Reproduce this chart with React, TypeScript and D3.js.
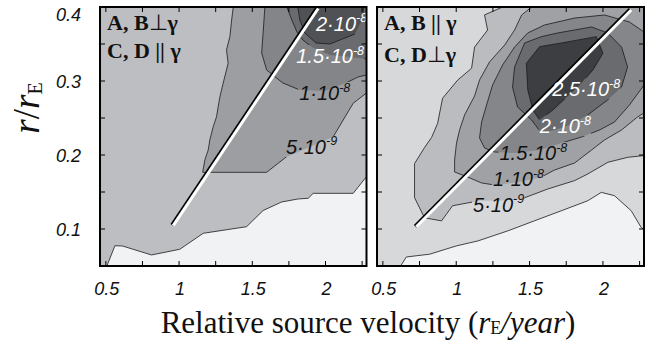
import React from 'react';
import * as d3 from 'd3';

type Pt = [number, number];

// ---- axes ----
const X_DOMAIN: [number, number] = [0.46, 2.28];
const Y_DOMAIN: [number, number] = [0.05, 0.4];
const xTickValues = [0.5, 0.75, 1, 1.25, 1.5, 1.75, 2, 2.25];
const xLabelValues = [0.5, 1, 1.5, 2];
const xLabelTexts = ['0.5', '1', '1.5', '2'];
const yTickValues = [0.1, 0.15, 0.2, 0.25, 0.3, 0.35];
const yLabelValues = [0.1, 0.2, 0.3, 0.4];
const yLabelTexts = ['0.1', '0.2', '0.3', '0.4'];

// ---- left panel: A,B ⊥ γ ; C,D || γ ----
const leftLowest: Pt[] = [[0.507, 0.05], [0.562, 0.0774], [0.614, 0.077], [0.812, 0.0649], [1.005, 0.0726], [1.165, 0.0942], [1.461, 0.1031], [1.574, 0.125], [1.7, 0.1365], [1.811, 0.1405], [1.882, 0.1415], [1.916, 0.1482], [2.189, 0.1482], [2.28, 0.1707], [2.28, 0.05]];
const left5e9: Pt[] = [[1.37, 0.4], [2.28, 0.4], [2.28, 0.2838], [2.189, 0.2699], [2.121, 0.2473], [2.053, 0.2247], [1.893, 0.2108], [1.734, 0.1977], [1.598, 0.1766], [1.161, 0.1766], [1.176, 0.1932], [1.199, 0.2068], [1.21, 0.2203], [1.233, 0.2382], [1.256, 0.2518], [1.267, 0.2653], [1.279, 0.2788], [1.301, 0.2969], [1.335, 0.3239], [1.324, 0.3419], [1.347, 0.3599], [1.359, 0.3824]];
const left1e8: Pt[] = [[1.586, 0.4], [2.28, 0.4], [2.28, 0.3081], [2.221, 0.3054], [2.153, 0.2986], [1.996, 0.2865], [1.825, 0.2878], [1.709, 0.2973], [1.654, 0.3058], [1.598, 0.3149], [1.564, 0.3378], [1.574, 0.3649]];
const left15e8: Pt[] = [[1.736, 0.4], [2.28, 0.4], [2.28, 0.3297], [2.167, 0.3324], [2.03, 0.3351], [1.907, 0.3459], [1.846, 0.3554], [1.805, 0.3662], [1.77, 0.3824]];
const left2e8: Pt[] = [[1.811, 0.4], [2.262, 0.4], [2.249, 0.3824], [2.201, 0.3635], [2.03, 0.35], [1.935, 0.3514], [1.859, 0.3649], [1.825, 0.3824]];
const leftLine: Pt[] = [[0.96, 0.1045], [1.95, 0.398]];
const leftLabels = [
  { mant: '2', exp: '-8', v: 1.935, r: 0.3676, white: true },
  { mant: '1.5', exp: '-8', v: 1.8, r: 0.3243, white: true },
  { mant: '1', exp: '-8', v: 1.82, r: 0.2743, white: false },
  { mant: '5', exp: '-9', v: 1.73, r: 0.2014, white: false },
];

// ---- right panel: A,B || γ ; C,D ⊥ γ ----
const rightLowest: Pt[] = [[0.621, 0.05], [0.66, 0.0622], [0.818, 0.0659], [1.0, 0.0771], [1.148, 0.0839], [1.352, 0.0975], [1.534, 0.1111], [1.716, 0.1246], [1.897, 0.1382], [1.989, 0.1495], [2.079, 0.145], [2.193, 0.1246], [2.261, 0.102], [2.28, 0.0989], [2.28, 0.05]];
const right5e9: Pt[] = [[1.316, 0.4], [2.28, 0.4], [2.28, 0.1992], [2.17, 0.1969], [2.034, 0.1902], [1.897, 0.1744], [1.807, 0.1654], [1.625, 0.1541], [1.443, 0.1405], [1.296, 0.1382], [1.159, 0.1382], [0.975, 0.1314], [0.9, 0.111], [0.784, 0.1151], [0.716, 0.1423], [0.716, 0.1884], [0.784, 0.2101], [0.832, 0.2237], [0.873, 0.2427], [0.907, 0.2766], [1.009, 0.3011], [1.105, 0.3173], [1.125, 0.3458], [1.214, 0.3689], [1.193, 0.3893]];
const right1e8: Pt[] = [[1.514, 0.4], [2.28, 0.4], [2.28, 0.2568], [2.236, 0.2514], [2.127, 0.2338], [2.011, 0.2203], [1.923, 0.2068], [1.807, 0.1892], [1.67, 0.1797], [1.581, 0.1703], [1.432, 0.1635], [1.261, 0.1595], [1.173, 0.1622], [1.077, 0.1703], [0.989, 0.177], [0.989, 0.1932], [1.002, 0.2162], [1.023, 0.2338], [1.057, 0.2541], [1.125, 0.2797], [1.159, 0.3014], [1.227, 0.3257], [1.33, 0.3486], [1.398, 0.3689], [1.446, 0.3892]];
const right15e8: Pt[] = [[1.602, 0.3757], [1.807, 0.3851], [2.011, 0.3892], [2.181, 0.3797], [2.28, 0.3662], [2.28, 0.2946], [2.181, 0.2676], [2.079, 0.2446], [1.977, 0.2338], [1.854, 0.2243], [1.718, 0.2162], [1.568, 0.2068], [1.398, 0.2027], [1.261, 0.2041], [1.193, 0.2095], [1.159, 0.223], [1.173, 0.2446], [1.207, 0.2676], [1.248, 0.2946], [1.316, 0.3216], [1.398, 0.3459], [1.487, 0.3649]];
const right2e8: Pt[] = [[1.466, 0.3514], [1.58, 0.3599], [1.691, 0.3649], [1.807, 0.3689], [1.923, 0.373], [2.032, 0.3649], [2.127, 0.3459], [2.168, 0.3189], [2.127, 0.2919], [2.032, 0.2743], [1.896, 0.2541], [1.773, 0.2405], [1.67, 0.2338], [1.58, 0.2297], [1.514, 0.2473], [1.418, 0.2649], [1.384, 0.2919], [1.398, 0.3189]];
const right25e8: Pt[] = [[1.478, 0.3239], [1.568, 0.3464], [1.718, 0.3514], [1.955, 0.3599], [2.0, 0.3374], [1.932, 0.3149], [1.841, 0.2946], [1.659, 0.2608], [1.568, 0.2473], [1.523, 0.2608], [1.488, 0.2878]];
const rightLine: Pt[] = [[0.728, 0.103], [2.193, 0.396]];
const rightLabels = [
  { mant: '2.5', exp: '-8', v: 1.655, r: 0.2797, white: true },
  { mant: '2', exp: '-8', v: 1.57, r: 0.2297, white: true },
  { mant: '1.5', exp: '-8', v: 1.295, r: 0.1932, white: false },
  { mant: '1', exp: '-8', v: 1.25, r: 0.1581, white: false },
  { mant: '5', exp: '-9', v: 1.115, r: 0.123, white: false },
];

const SANS = "'Liberation Sans', Arial, Helvetica, sans-serif";
const SERIF = "'Liberation Serif', 'Times New Roman', Times, serif";

const TOP = 7;
const BOTTOM = 266;
const LABEL_FS = 20;
const SUP_FS = 12.5;

type Label = { mant: string; exp: string; v: number; r: number; white: boolean };

function labelWidth(l: Label) {
  let w = 0;
  for (const c of l.mant) w += c === '.' ? 0.278 : 0.556;
  w += 0.278 + 2 * 0.556; // "·10"
  return w * LABEL_FS + 0.9 * SUP_FS;
}

interface PanelProps {
  id: string;
  x0: number;
  x1: number;
  base: string;
  lowest: Pt[];
  levels: Pt[][];
  colors: string[];
  line: Pt[];
  labels: Label[];
  note1: React.ReactNode;
  note2: React.ReactNode;
  noteY2: number;
  showY: boolean;
}

function Panel(p: PanelProps) {
  const xs = d3.scaleLinear().domain(X_DOMAIN).range([p.x0, p.x1]);
  const ys = d3.scaleLinear().domain(Y_DOMAIN).range([BOTTOM, TOP]);
  const path = d3.line<Pt>().x((d) => xs(d[0])).y((d) => ys(d[1]));
  const poly = (pts: Pt[]) => path(pts) + 'Z';
  const tl = 5;
  const all = [p.lowest, ...p.levels];
  return (
    <g>
      <defs>
        <clipPath id={'clip-' + p.id}>
          <rect x={p.x0} y={TOP} width={p.x1 - p.x0} height={BOTTOM - TOP} />
        </clipPath>
        <mask id={'mask-' + p.id} maskUnits="userSpaceOnUse" x={0} y={0} width={646} height={341}>
          <rect x={0} y={0} width={646} height={341} fill="#fff" />
          {p.labels.map((l, i) => (
            <rect key={i} x={xs(l.v) - 1} y={ys(l.r) - 18} width={labelWidth(l) + 2} height={21} fill="#000" />
          ))}
        </mask>
      </defs>
      <g clipPath={`url(#clip-${p.id})`}>
        <rect x={p.x0} y={TOP} width={p.x1 - p.x0} height={BOTTOM - TOP} fill={p.base} />
        <path d={poly(p.lowest)} fill="#f1f2f4" />
        {p.levels.map((lv, i) => (
          <path key={i} d={poly(lv)} fill={p.colors[i]} />
        ))}
        <g mask={`url(#mask-${p.id})`}>
          {all.map((lv, i) => (
            <path key={'s' + i} d={poly(lv)} fill="none" stroke="#1a1a1a" strokeWidth={0.8} />
          ))}
        </g>
        <line
          x1={xs(p.line[0][0]) - 1.2}
          y1={ys(p.line[0][1]) - 0.6}
          x2={xs(p.line[1][0]) - 1.2}
          y2={ys(p.line[1][1]) - 0.6}
          stroke="#000"
          strokeWidth={3.6}
        />
        <line
          x1={xs(p.line[0][0])}
          y1={ys(p.line[0][1])}
          x2={xs(p.line[1][0])}
          y2={ys(p.line[1][1])}
          stroke="#fff"
          strokeWidth={3}
        />
        {p.labels.map((l, i) => (
          <text
            key={i}
            x={xs(l.v)}
            y={ys(l.r)}
            fill={l.white ? '#fff' : '#111'}
            fontFamily={SANS}
            fontStyle="italic"
            fontSize={LABEL_FS}
          >
            {l.mant}·10
            <tspan fontSize={SUP_FS} dy={-8.5}>
              {l.exp}
            </tspan>
          </text>
        ))}
        <text x={p.x0 + 7} y={30} fontFamily={SERIF} fontWeight="bold" fontSize={22} fill="#111">
          {p.note1}
        </text>
        <text x={p.x0 + 7} y={p.noteY2} fontFamily={SERIF} fontWeight="bold" fontSize={22} fill="#111">
          {p.note2}
        </text>
      </g>
      {xTickValues.map((t) => (
        <g key={'xt' + t}>
          <line x1={xs(t)} x2={xs(t)} y1={BOTTOM} y2={BOTTOM - tl} stroke="#000" strokeWidth={1} />
          <line x1={xs(t)} x2={xs(t)} y1={TOP} y2={TOP + tl} stroke="#000" strokeWidth={1} />
        </g>
      ))}
      {yTickValues.map((t) => (
        <g key={'yt' + t}>
          <line x1={p.x0} x2={p.x0 + tl} y1={ys(t)} y2={ys(t)} stroke="#000" strokeWidth={1} />
          <line x1={p.x1} x2={p.x1 - tl} y1={ys(t)} y2={ys(t)} stroke="#000" strokeWidth={1} />
        </g>
      ))}
      <rect x={p.x0} y={TOP} width={p.x1 - p.x0} height={BOTTOM - TOP} fill="none" stroke="#000" strokeWidth={2} />
      {xLabelValues.map((t, i) => (
        <text key={'xl' + t} x={xs(t) + 1} y={295} textAnchor="middle" fontFamily={SANS} fontStyle="italic" fontSize={18} fill="#111">
          {xLabelTexts[i]}
        </text>
      ))}
      {p.showY &&
        yLabelValues.map((t, i) => (
          <text
            key={'yl' + t}
            x={81}
            y={Math.max(ys(t) + 6.5, 21)}
            textAnchor="end"
            fontFamily={SANS}
            fontStyle="italic"
            fontSize={18}
            fill="#111"
          >
            {yLabelTexts[i]}
          </text>
        ))}
    </g>
  );
}

export default function App() {
  return (
    <svg width={646} height={341} style={{ position: 'absolute', left: 0, top: 0, background: '#fff' }}>
      <rect x={0} y={0} width={646} height={341} fill="#fff" />
      <Panel
        id="L"
        x0={100}
        x1={366.5}
        base="#bdbec1"
        lowest={leftLowest}
        levels={[left5e9, left1e8, left15e8, left2e8]}
        colors={['#9d9ea1', '#848588', '#6a6b6e', '#505154']}
        line={leftLine}
        labels={leftLabels}
        note1={<>A, B<tspan fontWeight="normal">⊥</tspan>γ</>}
        note2={<>C, D || γ</>}
        noteY2={58}
        showY={true}
      />
      <Panel
        id="R"
        x0={377}
        x1={644}
        base="#d7d8da"
        lowest={rightLowest}
        levels={[right5e9, right1e8, right15e8, right2e8, right25e8]}
        colors={['#bbbcbf', '#a0a1a4', '#858689', '#6a6b6e', '#3d3e41']}
        line={rightLine}
        labels={rightLabels}
        note1={<>A, B || γ</>}
        note2={<>C, D<tspan fontWeight="normal">⊥</tspan>γ</>}
        noteY2={62}
        showY={false}
      />
      <text transform="translate(39,108) rotate(-90)" textAnchor="middle" fontFamily={SERIF} fontSize={37} fill="#111">
        <tspan fontStyle="italic">r</tspan>
        <tspan>/</tspan>
        <tspan fontStyle="italic">r</tspan>
        <tspan fontSize={20} dy={3}>E</tspan>
      </text>
      <text x={368} y={333} textAnchor="middle" fontFamily={SERIF} fontSize={31} fill="#111">
        Relative source velocity (<tspan fontStyle="italic">r</tspan>
        <tspan fontSize={18} dy={1}>E</tspan>
        <tspan fontStyle="italic" dy={-1}>/year</tspan>)
      </text>
    </svg>
  );
}
